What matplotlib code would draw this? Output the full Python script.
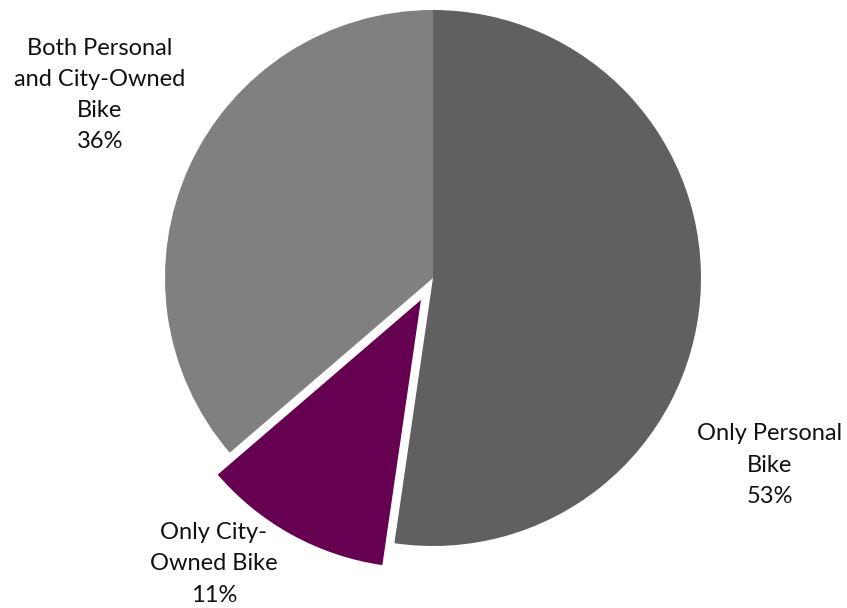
import matplotlib
matplotlib.use("Agg")
import matplotlib.pyplot as plt

labels = ["Only Personal\nBike", "Only City-\nOwned Bike", "Both Personal\nand City-Owned\nBike"]
shares = [52.3, 11.4, 36.3]
pct_labels = ["53%", "11%", "36%"]
colors = ["#606060", "#660050", "#808080"]
explode = [0, 25, 0]   # in pixel units (axes are in pixels)

plt.rcParams["font.family"] = ["Lato", "DejaVu Sans"]

W, H = 847, 608
fig = plt.figure(figsize=(W / 100, H / 100), dpi=100)
ax = fig.add_axes([0, 0, 1, 1])

ax.pie(shares, colors=colors, explode=explode, startangle=90, counterclock=False,
       center=(433, 330), radius=268, frame=True,
       wedgeprops=dict(linewidth=0))
ax.set_xlim(0, W)
ax.set_ylim(0, H)
ax.set_aspect("equal")
ax.axis("off")

# data labels
label_pos = [(770, 143), (214, 44), (100, 513)]
for lab, p, (x, y) in zip(labels, pct_labels, label_pos):
    ax.text(x, y, f"{lab}\n{p}", ha="center", va="center", fontsize=17,
            linespacing=1.6, color="#111111")

fig.savefig("out.png", dpi=100)
